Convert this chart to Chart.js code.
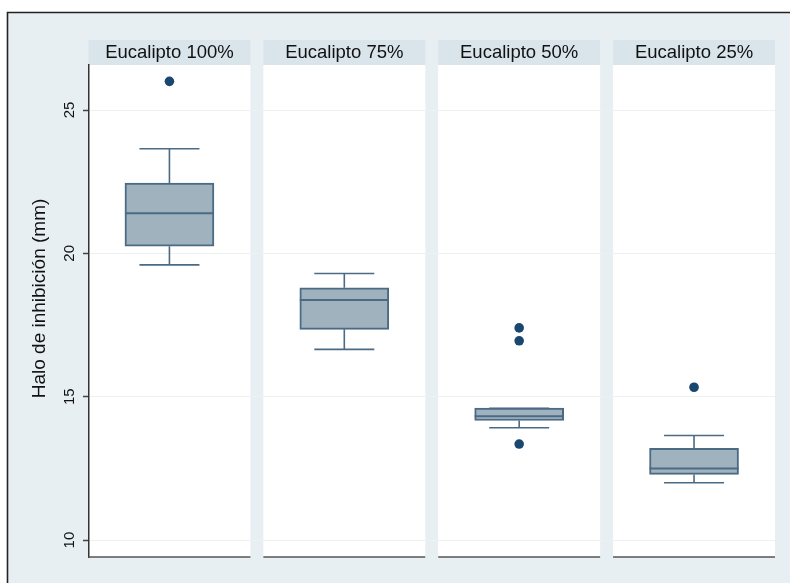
<!DOCTYPE html>
<html>
<head>
<meta charset="utf-8">
<title>Halo de inhibición</title>
<script src="https://cdn.jsdelivr.net/npm/chart.js@4.4.1/dist/chart.umd.min.js"></script>
<style>
  html, body { margin: 0; padding: 0; background: #fff; }
  canvas { display: block; }
</style>
</head>
<body>
<canvas id="boxChart" width="790" height="583"></canvas>
<script>
// Box plot summaries per eucalyptus concentration
const groups = ['Eucalipto 100%', 'Eucalipto 75%', 'Eucalipto 50%', 'Eucalipto 25%'];
const lowerWhisker = [19.6, 16.65, 13.92, 12.0];
const q1 = [20.25, 17.35, 14.17, 12.29];
const median = [21.4, 18.37, 14.32, 12.5];
const q3 = [22.45, 18.8, 14.6, 13.2];
const upperWhisker = [23.65, 19.3, 14.6, 13.65];
const outliers = [[26.0], [], [17.4, 16.95, 13.35], [15.33]];
const yTicks = [10, 15, 20, 25];

// Colours
const BG = '#e8eff2';
const STRIP = '#d9e5eb';
const GRID = '#eaf2f3';
const BOX_FILL = '#a1b2bf';
const BOX_LINE = '#4b6a83';
const DOT = '#1a476f';

const PANEL_HALF = 0.463;   // half width of each panel in x units
const BOX_PX = 89;
const CAP_PX = 60;
const STRIP_H = 25;
const FONT = '"Liberation Sans", Arial, sans-serif';

const panels = {
    id: 'panels',
    beforeDraw(chart) {
        const { ctx, chartArea: a, scales: { x } } = chart;
        ctx.save();
        ctx.fillStyle = '#fff';
        ctx.fillRect(0, 0, chart.width, chart.height);
        ctx.fillStyle = BG;
        ctx.fillRect(7, 12, chart.width, chart.height);
        ctx.strokeStyle = '#222';
        ctx.lineWidth = 1.6;
        ctx.beginPath();
        ctx.moveTo(7.5, chart.height);
        ctx.lineTo(7.5, 12.5);
        ctx.lineTo(chart.width, 12.5);
        ctx.stroke();

        groups.forEach((g, i) => {
            const l = x.getPixelForValue(i - PANEL_HALF);
            const r = x.getPixelForValue(i + PANEL_HALF);
            ctx.fillStyle = '#fff';
            ctx.fillRect(l, a.top, r - l, a.bottom - a.top);
            ctx.fillStyle = STRIP;
            ctx.fillRect(l, a.top - STRIP_H, r - l, STRIP_H);
            ctx.fillStyle = '#111';
            ctx.font = '18.5px ' + FONT;
            ctx.textAlign = 'center';
            ctx.textBaseline = 'alphabetic';
            ctx.fillText(g, (l + r) / 2, a.top - 7);
        });
        ctx.restore();
    },
    // whiskers and caps sit behind the boxes
    beforeDatasetsDraw(chart) {
        const { ctx, scales: { x, y } } = chart;
        ctx.save();
        ctx.strokeStyle = BOX_LINE;
        ctx.lineWidth = 1.6;
        groups.forEach((g, i) => {
            const cx = x.getPixelForValue(i);
            const top = y.getPixelForValue(upperWhisker[i]);
            const bot = y.getPixelForValue(lowerWhisker[i]);
            ctx.beginPath();
            ctx.moveTo(cx, y.getPixelForValue(q3[i]));
            ctx.lineTo(cx, top);
            ctx.moveTo(cx, y.getPixelForValue(q1[i]));
            ctx.lineTo(cx, bot);
            ctx.moveTo(cx - CAP_PX / 2, top);
            ctx.lineTo(cx + CAP_PX / 2, top);
            ctx.moveTo(cx - CAP_PX / 2, bot);
            ctx.lineTo(cx + CAP_PX / 2, bot);
            ctx.stroke();
        });
        ctx.restore();
    },
    afterDatasetsDraw(chart) {
        const { ctx, scales: { x, y } } = chart;
        ctx.save();
        ctx.strokeStyle = BOX_LINE;
        ctx.lineWidth = 2;
        groups.forEach((g, i) => {
            const cx = x.getPixelForValue(i);
            const my = y.getPixelForValue(median[i]);
            ctx.beginPath();
            ctx.moveTo(cx - BOX_PX / 2, my);
            ctx.lineTo(cx + BOX_PX / 2, my);
            ctx.stroke();
        });
        ctx.restore();
    },
    afterDraw(chart) {
        const { ctx, chartArea: a, scales: { x, y } } = chart;
        ctx.save();
        // bottom axis line under each panel
        ctx.strokeStyle = '#555';
        ctx.lineWidth = 1.6;
        groups.forEach((g, i) => {
            const l = x.getPixelForValue(i - PANEL_HALF);
            const r = x.getPixelForValue(i + PANEL_HALF);
            ctx.beginPath();
            ctx.moveTo(i === 0 ? a.left - 0.8 : l, a.bottom);
            ctx.lineTo(r, a.bottom);
            ctx.stroke();
        });
        // rotated tick labels
        ctx.fillStyle = '#111';
        ctx.font = '15px ' + FONT;
        ctx.textAlign = 'center';
        ctx.textBaseline = 'alphabetic';
        y.ticks.forEach(t => {
            ctx.save();
            ctx.translate(a.left - 15.5, y.getPixelForValue(t.value));
            ctx.rotate(-Math.PI / 2);
            ctx.fillText(String(t.value), 0, 0);
            ctx.restore();
        });
        // axis title
        ctx.font = '19px ' + FONT;
        ctx.translate(45, (a.top - STRIP_H + a.bottom) / 2);
        ctx.rotate(-Math.PI / 2);
        ctx.fillText('Halo de inhibición (mm)', 0, 0);
        ctx.restore();
    }
};

new Chart(document.getElementById('boxChart').getContext('2d'), {
    type: 'bar',
    data: {
        datasets: [{
            label: 'Caja',
            data: groups.map((g, i) => ({ x: i, y: [q1[i], q3[i]] })),
            backgroundColor: BOX_FILL,
            borderColor: BOX_LINE,
            borderWidth: 2,
            borderSkipped: false,
            barThickness: BOX_PX
        }, {
            type: 'scatter',
            label: 'Atípicos',
            data: outliers.flatMap((vals, i) => vals.map(v => ({ x: i, y: v }))),
            backgroundColor: DOT,
            borderWidth: 0,
            pointRadius: 4.8
        }]
    },
    options: {
        responsive: false,
        animation: false,
        layout: { padding: { left: 0, top: 65, right: 15, bottom: 26 } },
        plugins: { legend: { display: false }, tooltip: { enabled: false } },
        scales: {
            x: {
                type: 'linear',
                min: -0.46,
                max: 3.463,
                offset: false,
                display: false
            },
            y: {
                min: 9.41,
                max: 26.57,
                afterBuildTicks: s => { s.ticks = yTicks.map(v => ({ value: v })); },
                afterFit: s => { s.width = 89; },
                grid: { color: GRID, lineWidth: 1, drawTicks: true, tickLength: 6, tickColor: '#444', tickWidth: 1.5 },
                border: { display: true, color: '#333', width: 1.5 },
                ticks: { display: false }
            }
        }
    },
    plugins: [panels]
});
</script>
</body>
</html>
